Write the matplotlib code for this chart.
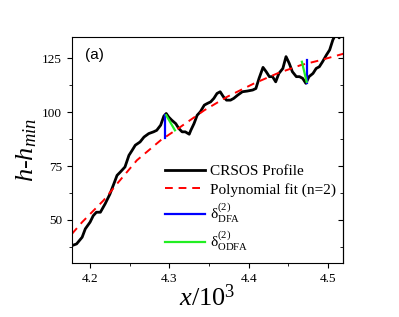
import matplotlib
matplotlib.use("Agg")
import matplotlib.pyplot as plt
from matplotlib.ticker import MultipleLocator, NullFormatter

plt.rcParams['font.family'] = ['Liberation Serif', 'DejaVu Serif']
plt.rcParams['mathtext.fontset'] = 'custom'
plt.rcParams['mathtext.rm'] = 'Liberation Serif'
plt.rcParams['mathtext.it'] = 'Liberation Serif:italic'
plt.rcParams['mathtext.bf'] = 'Liberation Serif:bold'

# CRSOS profile
prof_x = [4.177, 4.183, 4.190, 4.194, 4.200, 4.204, 4.208, 4.213, 4.219, 4.225,
          4.230, 4.234, 4.238, 4.244, 4.249, 4.253, 4.257, 4.263, 4.268, 4.274,
          4.280, 4.284, 4.289, 4.293, 4.296, 4.299, 4.303, 4.308, 4.312, 4.316,
          4.320, 4.325, 4.327, 4.331, 4.335, 4.339, 4.344, 4.348, 4.352, 4.356,
          4.360, 4.364, 4.368, 4.372, 4.377, 4.381, 4.386, 4.392, 4.398, 4.405,
          4.409, 4.413, 4.418, 4.422, 4.426, 4.430, 4.434, 4.438, 4.443, 4.447,
          4.451, 4.455, 4.460, 4.464, 4.468, 4.472, 4.476, 4.481, 4.485, 4.489,
          4.493, 4.498, 4.502, 4.506, 4.510, 4.514, 4.519]
prof_y = [38.1, 38.9, 42.0, 45.9, 49.0, 52.0, 53.6, 53.6, 57.5, 62.0,
          66.8, 70.7, 72.2, 74.6, 80.0, 82.3, 84.7, 86.2, 88.5, 90.1,
          90.9, 91.6, 94.0, 98.2, 99.4, 97.8, 96.3, 94.7, 92.4, 90.9,
          90.9, 89.8, 91.6, 94.7, 98.6, 100.2, 103.3, 104.1, 104.8, 106.4,
          108.7, 109.5, 107.2, 105.6, 105.6, 106.4, 107.9, 109.5, 109.8, 110.3,
          111.0, 115.7, 120.8, 118.8, 116.5, 116.5, 114.1, 118.0, 120.3, 125.8,
          122.7, 118.8, 116.5, 116.5, 115.7, 113.4, 116.5, 118.0, 120.3, 121.1,
          123.4, 126.6, 128.9, 133.5, 136.5, 134.5, 137.0]

# second order polynomial fit
fit_x = [4.177, 4.190, 4.217, 4.234, 4.259, 4.289, 4.314, 4.344, 4.373, 4.407,
         4.436, 4.466, 4.491, 4.521]
fit_y = [43.5, 49.0, 59.1, 66.8, 77.7, 87.0, 93.2, 100.9, 107.2, 113.4,
         118.0, 121.9, 124.2, 127.3]

# residual segments
dfa_x = [[4.294, 4.294], [4.473, 4.473]]
dfa_y = [[98.6, 88.2], [124.2, 113.7]]
odfa_x = [[4.296, 4.307], [4.467, 4.473]]
odfa_y = [[98.6, 91.6], [123.4, 114.1]]

fig = plt.figure(figsize=(3.99, 3.17), dpi=100)
ax = fig.add_axes([0.180, 0.170, 0.680, 0.714])

ax.plot(prof_x, prof_y, color='black', lw=2, label='CRSOS Profile')
ax.plot(fit_x, fit_y, color='red', lw=1.4, ls=(0, (4, 3)), label='Polynomial fit (n=2)')
for i in range(2):
    ax.plot(dfa_x[i], dfa_y[i], color='blue', lw=1.6,
            label=r'$\mathrm{\delta}^{(2)}_{\mathrm{DFA}}$' if i == 0 else None)
for i in range(2):
    ax.plot(odfa_x[i], odfa_y[i], color='#22ee22', lw=1.6,
            label=r'$\mathrm{\delta}^{(2)}_{\mathrm{ODFA}}$' if i == 0 else None)

ax.set_xlim(4.177, 4.519)
ax.set_ylim(30, 135)
ax.xaxis.set_major_locator(MultipleLocator(0.1))
ax.xaxis.set_minor_locator(MultipleLocator(0.05))
ax.yaxis.set_major_locator(MultipleLocator(25))
ax.yaxis.set_minor_locator(MultipleLocator(12.5))
ax.tick_params(which='both', direction='out', labelsize=9.5)
ax.tick_params(which='major', length=3.5)
ax.tick_params(which='minor', length=2)

# inward ticks on the right side, no labels
sec = ax.secondary_yaxis('right')
sec.yaxis.set_major_locator(MultipleLocator(25))
sec.yaxis.set_minor_locator(MultipleLocator(12.5))
sec.yaxis.set_major_formatter(NullFormatter())
sec.tick_params(which='both', direction='in')
sec.tick_params(which='major', length=3.5)
sec.tick_params(which='minor', length=2)

ax.set_xlabel(r'$\mathit{x/10^3}$', fontsize=19, labelpad=0)
ax.set_ylabel(r'$h$-$h_{min}$', fontsize=19, labelpad=2)
ax.text(0.05, 0.9, '(a)', transform=ax.transAxes, fontsize=11,
        family='Liberation Sans')

ax.legend(loc='lower right', frameon=False, fontsize=11, handlelength=2.6,
          borderaxespad=0.1, labelspacing=0.3, handletextpad=0.3,
          bbox_to_anchor=(1.0, 0.013))

fig.savefig('out.png', dpi=100)
